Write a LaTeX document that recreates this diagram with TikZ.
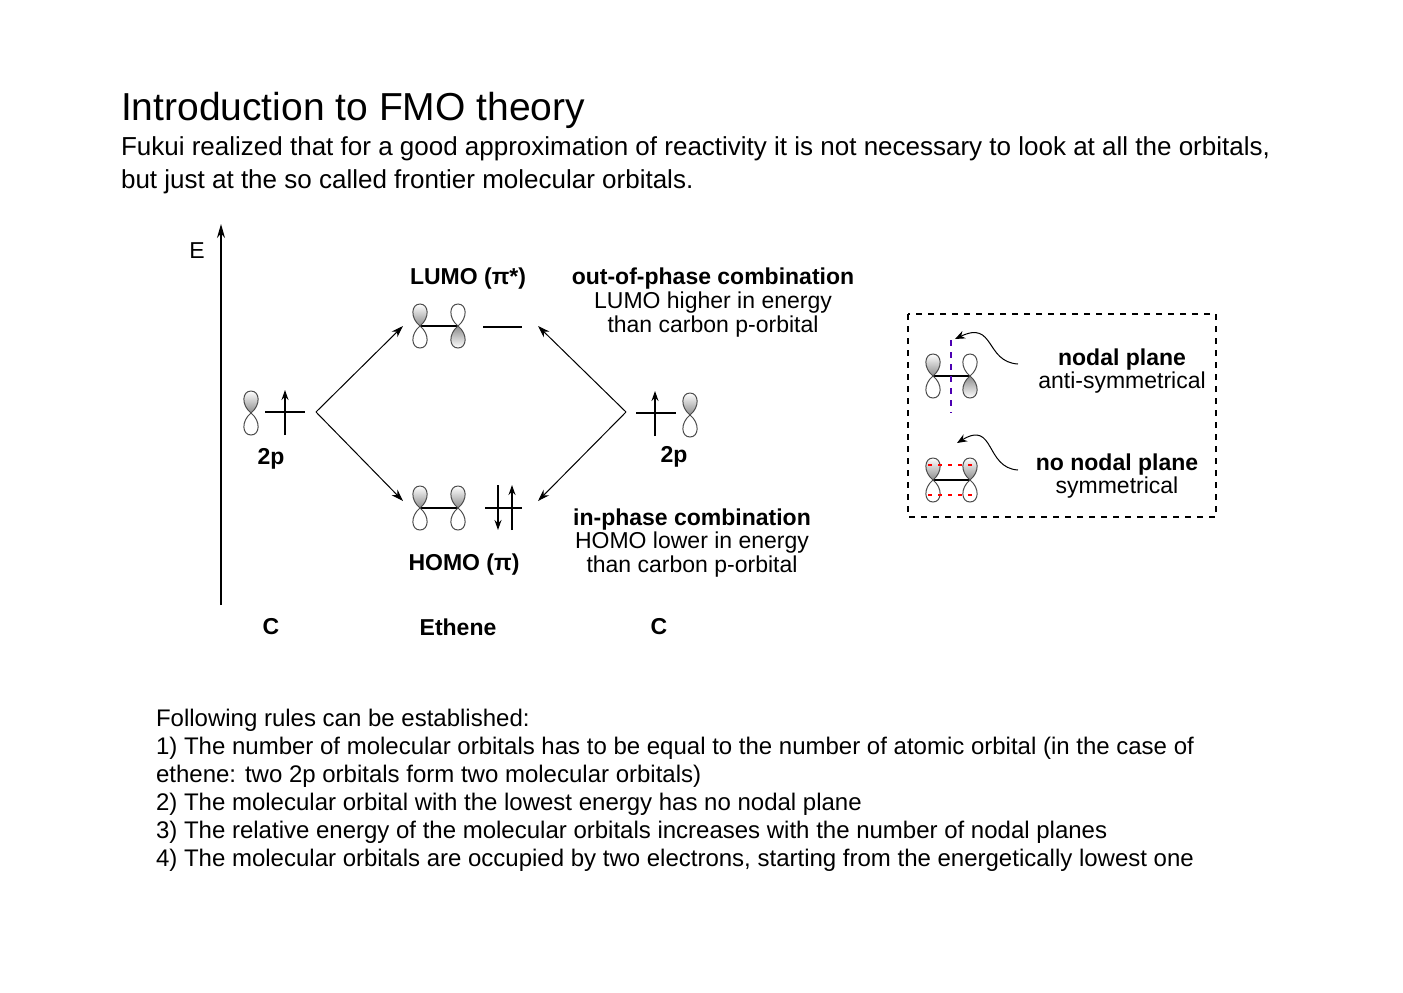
\documentclass[tikz,border=0pt]{standalone}
\usepackage{fontspec}
\setmainfont{Liberation Sans}
\usetikzlibrary{arrows.meta}
\begin{document}
\begin{tikzpicture}[x=0.5pt,y=-0.5pt,
  lobe/.style={line width=0.5pt,draw=black!70},
  lvl/.style={line width=0.7pt},
  el/.style={line width=0.7pt,-{Stealth[length=5pt,width=3.5pt]}},
  conn/.style={line width=0.5pt,-{Stealth[length=6pt,width=4pt]}},
  lab/.style={font=\fontsize{11.5}{13}\selectfont\bfseries},
  sub/.style={font=\fontsize{11.5}{12}\selectfont,align=center},
  body/.style={anchor=base west,font=\fontsize{12}{14}\selectfont},
  pics/porb/.style 2 args={code={
    \path[lobe,#1] (0,0) .. controls (-10,-8) and (-9,-22) .. (0,-22) .. controls (9,-22) and (10,-8) .. (0,0) -- cycle;
    \path[lobe,#2] (0,0) .. controls (-10,8) and (-9,22) .. (0,22) .. controls (9,22) and (10,8) .. (0,0) -- cycle;
  }}]
\useasboundingbox (0,0) rectangle (1403,992);
\tikzset{sh/.style={draw=black!70,top color=white,bottom color=black!45},
  shb/.style={draw=black!70,top color=black!45,bottom color=white}, un/.style={draw=black!70,fill=white}}
% header
\node[anchor=base west,font=\fontsize{19.5}{22}\selectfont] (title) at (114,120) {Introduction to FMO theory};
\node[anchor=base west,font=\fontsize{13}{16}\selectfont] (l1) at (114,155) {Fukui realized that for a good approximation of reactivity it is not necessary to look at all the orbitals,};
\node[anchor=base west,font=\fontsize{13}{16}\selectfont] (l2) at (114,188) {but just at the so called frontier molecular orbitals.};
% axis
\coordinate (ax0) at (221,605); \coordinate (ax1) at (221,224);
\draw[line width=0.7pt,-{Stealth[length=7pt,width=4pt]}] (ax0) -- (ax1);
\node[font=\fontsize{11.5}{12}\selectfont] (E) at (197,251) {E};
% left C
\pic at (251,413) {porb={sh}{un}};
\coordinate (lc1) at (265,412); \coordinate (lc2) at (305,412);
\draw[lvl] (lc1) -- (lc2);
\coordinate (la0) at (285,435); \coordinate (la1) at (285,390);
\draw[el] (la0) -- (la1);
\node[lab] (twop1) at (271,459) {2p};
% right C
\pic at (690,415) {porb={sh}{un}};
\coordinate (rc1) at (636,413); \coordinate (rc2) at (676,413);
\draw[lvl] (rc1) -- (rc2);
\coordinate (ra0) at (655,436); \coordinate (ra1) at (655,391);
\draw[el] (ra0) -- (ra1);
\node[lab] (twop2) at (674,457) {2p};
% LUMO
\coordinate (lb1) at (420,326); \coordinate (lb2) at (458,326);
\draw[line width=0.7pt] (lb1) -- (lb2);
\pic at (lb1) {porb={sh}{un}};
\pic at (lb2) {porb={un}{shb}};
\coordinate (lu1) at (483,327); \coordinate (lu2) at (522,327);
\draw[lvl] (lu1) -- (lu2);
% HOMO
\coordinate (hb1) at (420,508); \coordinate (hb2) at (458,508);
\draw[line width=0.7pt] (hb1) -- (hb2);
\pic at (hb1) {porb={sh}{un}};
\pic at (hb2) {porb={sh}{un}};
\coordinate (ho1) at (485,508); \coordinate (ho2) at (522,508);
\draw[lvl] (ho1) -- (ho2);
\coordinate (hd0) at (498,485); \coordinate (hd1) at (498,530);
\coordinate (hu0) at (512,530); \coordinate (hu1) at (512,485);
\draw[el] (hd0) -- (hd1); \draw[el] (hu0) -- (hu1);
% connectors
\coordinate (lv) at (316,412); \coordinate (rv) at (626,412);
\coordinate (lt) at (403,326); \coordinate (lbm) at (403,501);
\coordinate (rt) at (538,326); \coordinate (rbm) at (538,501);
\draw[conn] (lv) -- (lt); \draw[conn] (lv) -- (lbm);
\draw[conn] (rv) -- (rt); \draw[conn] (rv) -- (rbm);
% labels
\node[lab] (lumo) at (468,279) {LUMO (π*)};
\node[lab] (oop) at (713,279) {out-of-phase combination};
\node[sub] (oop2) at (713,315) {LUMO higher in energy\\than carbon p-orbital};
\node[lab] (ip) at (692,520) {in-phase combination};
\node[sub] (ip2) at (692,555) {HOMO lower in energy\\than carbon p-orbital};
\node[lab] (homo) at (464,565) {HOMO (π)};
\node[lab] (c1) at (271,627) {C};
\node[lab] (eth) at (458,627) {Ethene};
\node[lab] (c2) at (659,627) {C};
% box
\draw[dashed,line width=0.6pt] (908,314) rectangle (1216,517);
\coordinate (b1) at (933,376); \coordinate (b2) at (970,376);
\draw[line width=0.7pt] (b1) -- (b2);
\pic at (b1) {porb={sh}{un}};
\pic at (b2) {porb={un}{shb}};
\coordinate (np0) at (951,340); \coordinate (np1) at (951,413);
\draw[blue!70!red,dashed,line width=0.8pt] (np0) -- (np1);
\coordinate (c1a) at (1018,364); \coordinate (c1b) at (955,339);
\draw[line width=0.5pt,-{Stealth[length=5pt,width=4pt]}] (c1a) .. controls (985,362) and (995,320) .. (c1b);
\node[lab] (np) at (1122,360) {nodal plane};
\node[sub] (as) at (1122,383) {anti-symmetrical};
\coordinate (d1) at (933,480); \coordinate (d2) at (970,480);
\draw[line width=0.7pt] (d1) -- (d2);
\pic at (d1) {porb={sh}{un}};
\pic at (d2) {porb={sh}{un}};
\coordinate (r1a) at (928,465); \coordinate (r1b) at (975,465);
\coordinate (r2a) at (928,495); \coordinate (r2b) at (975,495);
\draw[red,dash pattern=on 2pt off 3pt,line width=1pt] (r1a) -- (r1b);
\draw[red,dash pattern=on 2pt off 3pt,line width=1pt] (r2a) -- (r2b);
\coordinate (c2a) at (1018,470); \coordinate (c2b) at (957,443);
\draw[line width=0.5pt,-{Stealth[length=5pt,width=4pt]}] (c2a) .. controls (985,468) and (995,420) .. (c2b);
\node[lab] (nnp) at (1117,465) {no nodal plane};
\node[sub] (sy) at (1117,488) {symmetrical};
% rules
\node[body] (r0) at (149,726) {Following rules can be established:};
\node[body] (r1) at (149,754) {1) The number of molecular orbitals has to be equal to the number of atomic orbital (in the case of};
\node[body] (r1b) at (149,782) {ethene: two 2p orbitals form two molecular orbitals)};
\node[body] (r2) at (149,810) {2) The molecular orbital with the lowest energy has no nodal plane};
\node[body] (r3) at (149,838) {3) The relative energy of the molecular orbitals increases with the number of nodal planes};
\node[body] (r4) at (149,866) {4) The molecular orbitals are occupied by two electrons, starting from the energetically lowest one};
\end{tikzpicture}
\end{document}
